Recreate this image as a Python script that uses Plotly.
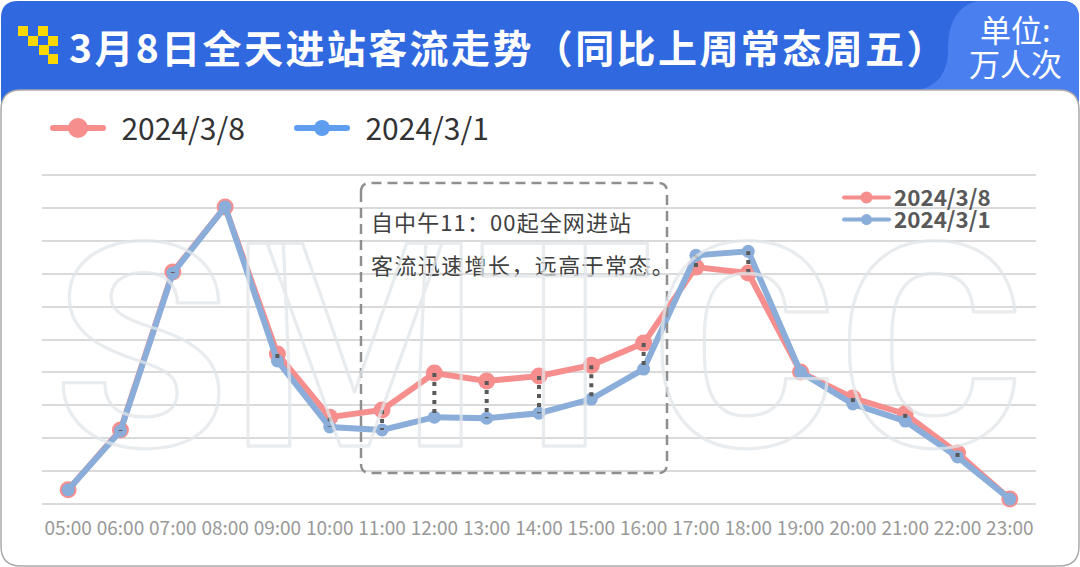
import plotly.graph_objects as go

W, H = 1080, 567

hours = ['05:00', '06:00', '07:00', '08:00', '09:00', '10:00', '11:00', '12:00', '13:00', '14:00',
         '15:00', '16:00', '17:00', '18:00', '19:00', '20:00', '21:00', '22:00', '23:00']
flow_0308 = [4.3, 22.5, 70.5, 90.3, 45.6, 26.4, 28.6, 39.8, 37.4, 38.9,
             42.2, 48.9, 72.0, 70.2, 40.1, 32.2, 27.4, 15.5, 1.5]
flow_0301 = [4.3, 22.2, 70.2, 90.3, 43.5, 23.4, 22.5, 26.4, 26.1, 27.6,
             31.9, 41.0, 75.6, 76.8, 40.1, 30.4, 25.2, 14.3, 1.5]

RED = '#F68E8E'
BLUE = '#8AADD9'
BLUE_TOP = '#5F9DEF'
CJK = 'Noto Sans CJK SC'


def px(x):
    return x / W


def py(y):
    return 1 - y / H


def path(points):
    # pixel coords to paper coords, for the decoration paths
    out = []
    for p in points:
        if isinstance(p, str):
            out.append(p)
        else:
            out.append('{:.5f},{:.5f}'.format(px(p[0]), py(p[1])))
    return ' '.join(out)


def note(text, x, y, size, color, anchor='left', bold=False, family=CJK):
    return dict(text=text, x=px(x), y=py(y), xref='paper', yref='paper', showarrow=False,
                xanchor=anchor, yanchor='middle', align='center',
                font=dict(family=family, size=size, color=color, weight='bold' if bold else 'normal'))


def key(name, color, size, width, legend):
    # empty trace, only there for its legend entry
    return go.Scatter(x=[None], y=[None], name=name, mode='lines+markers', legend=legend,
                      line=dict(color=color, width=width), marker=dict(color=color, size=size))


# connectors between the two series at each hour
drop_x, drop_y = [], []
for h, a, b in zip(hours, flow_0308, flow_0301):
    drop_x += [h, h, None]
    drop_y += [a, b, None]

data = [
    go.Scatter(x=hours, y=flow_0308, name='2024/3/8', mode='lines+markers', showlegend=False,
               line=dict(color=RED, width=6), marker=dict(color=RED, size=17)),
    go.Scatter(x=hours, y=flow_0301, name='2024/3/1', mode='lines+markers', showlegend=False,
               line=dict(color=BLUE, width=6), marker=dict(color=BLUE, size=13)),
    go.Scatter(x=drop_x, y=drop_y, mode='lines', showlegend=False, hoverinfo='skip',
               line=dict(color='#595959', width=4, dash='4px,5px')),
    # the nbsp widens the gap between key and label
    key('\u00a0\u00a02024/3/8', RED, 16, 6, 'legend'),
    key('\u00a0\u00a02024/3/1', BLUE_TOP, 16, 6, 'legend2'),
    key('2024/3/8', RED, 12, 4, 'legend3'),
    key('2024/3/1', BLUE, 11, 4, 'legend4'),
]

shapes = [
    # header
    dict(type='path', xref='paper', yref='paper', layer='below', fillcolor='#3068E0', line_width=0,
         path=path(['M', (1, 18), 'Q', (1, 1), (18, 1), 'L', (1062, 1), 'Q', (1079, 1), (1079, 18),
                    'L', (1079, 115), 'L', (1, 115), 'Z'])),
    dict(type='path', xref='paper', yref='paper', layer='below', fillcolor='#4A7FF0', line_width=0,
         path=path(['M', (978, 1), 'C', (958, 5), (948, 22), (948, 50), 'C', (948, 75), (935, 88), (916, 90),
                    'L', (916, 115), 'L', (1079, 115), 'L', (1079, 18), 'Q', (1079, 1), (1062, 1), 'Z'])),
    # white card
    dict(type='path', xref='paper', yref='paper', layer='below', fillcolor='white',
         line=dict(color='#ABABAB', width=1.5),
         path=path(['M', (1, 110), 'Q', (1, 90), (21, 90), 'L', (1059, 90), 'Q', (1079, 90), (1079, 110),
                    'L', (1079, 546), 'Q', (1079, 566), (1059, 566), 'L', (21, 566), 'Q', (1, 566), (1, 546), 'Z'])),
    # dashed callout
    dict(type='path', xref='paper', yref='paper', line=dict(color='#8F8F8F', width=2.5, dash='10px,6px'),
         path=path(['M', (361, 192), 'Q', (361, 183), (370, 183), 'L', (658, 183), 'Q', (667, 183), (667, 192),
                    'L', (667, 464), 'Q', (667, 473), (658, 473), 'L', (370, 473), 'Q', (361, 473), (361, 464), 'Z'])),
]
# yellow logo squares
for lx, ly in [(18, 26), (28, 36), (38, 26), (48, 36), (39, 45), (48, 54)]:
    shapes.append(dict(type='rect', xref='paper', yref='paper', layer='below', fillcolor='#F8D800', line_width=0,
                       x0=px(lx), x1=px(lx + 10), y0=py(ly), y1=py(ly + 10)))

annotations = [
    note('3月8日全天进站客流走势（同比上周常态周五）', 67, 46, 39, 'white', bold=True),
    note('单位:', 1015, 29, 31, 'white', anchor='center'),
    note('万人次', 1015, 62, 31, 'white', anchor='center'),
    note('自中午11：00起全网进站', 369, 221, 22, '#404040'),
    note('客流迅速增长，远高于常态。', 369, 264, 22, '#404040'),
    note('SMTCC', 539, 349, 285, 'rgba(0,0,0,0)', anchor='center', bold=True, family='Roboto'),
]


def legend_at(x, y, size, width, color, bold=False):
    return dict(x=px(x), y=py(y), xanchor='left', yanchor='middle', bgcolor='rgba(0,0,0,0)', borderwidth=0,
                itemwidth=width, font=dict(family=CJK, size=size, color=color, weight='bold' if bold else 'normal'))


layout = go.Layout(
    width=W, height=H, margin=dict(l=0, r=0, t=0, b=0), paper_bgcolor='white', plot_bgcolor='rgba(0,0,0,0)',
    showlegend=True,
    xaxis=dict(domain=[px(42), px(1036)], type='category', categoryorder='array', categoryarray=hours,
               range=[-0.5, 18.5], showgrid=False, zeroline=False, showline=False, ticks='',
               ticklabelstandoff=6, tickfont=dict(family=CJK, size=19, color='#999999')),
    # range padded a little, plotly drops grid lines sitting right on the edge
    yaxis=dict(domain=[py(509), py(170)], range=[-1.52, 101.52], tick0=0, dtick=10, showticklabels=False,
               zeroline=False, showgrid=True, gridcolor='#DADADA', gridwidth=2, showline=False),
    legend=legend_at(48, 128, 30, 50, '#333333'),
    legend2=legend_at(292, 128, 30, 50, '#333333'),
    legend3=legend_at(839, 198, 22.4, 45, '#595959', bold=True),
    legend4=legend_at(839, 220, 22.4, 45, '#595959', bold=True),
    shapes=shapes, annotations=annotations,
)

fig = go.Figure(data=data, layout=layout)

# things plotly has no option for: outline text, letter spacing, bigger legend markers
post = """
document.body.style.margin = '0';
var gd = document.getElementById('{plot_id}');
var spacing = {'自中午': '1.1px', '客流迅': '1.4px', '3月8': '2.4px'};
function tweak() {
  document.querySelectorAll('.annotation-text').forEach(function (t) {
    if (t.dataset.done) return;
    t.dataset.done = '1';
    var s = t.textContent;
    if (s === 'SMTCC') {
      t.style.fill = 'none';
      t.style.stroke = 'rgba(226,230,232,0.75)';
      t.style.strokeWidth = '3.3px';
      t.style.strokeLinejoin = 'round';
      t.style.letterSpacing = '1px';
    }
    var sp = spacing[s.slice(0, 3)];
    if (sp) {
      // text is middle anchored, so push it back to keep the left edge
      var w0 = t.getComputedTextLength();
      t.style.letterSpacing = sp;
      var w1 = t.getComputedTextLength();
      t.setAttribute('x', parseFloat(t.getAttribute('x')) + (w1 - w0) / 2);
    }
  });
  document.querySelectorAll('.legendlines path').forEach(function (p) {
    p.style.strokeLinecap = 'round';
  });
  document.querySelectorAll('.legend .traces').forEach(function (tr) {
    var text = tr.querySelector('.legendtext');
    if (!text || parseFloat(text.style.fontSize) < 28) return;
    tr.querySelectorAll('.legendpoints path').forEach(function (p) {
      if (p.dataset.done) return;
      p.dataset.done = '1';
      p.setAttribute('transform', (p.getAttribute('transform') || '') + ' scale(1.25)');
    });
  });
}
gd.on('plotly_afterplot', tweak);
tweak();
"""
fig.write_html("out.html", post_script=post, config={'displayModeBar': False})
